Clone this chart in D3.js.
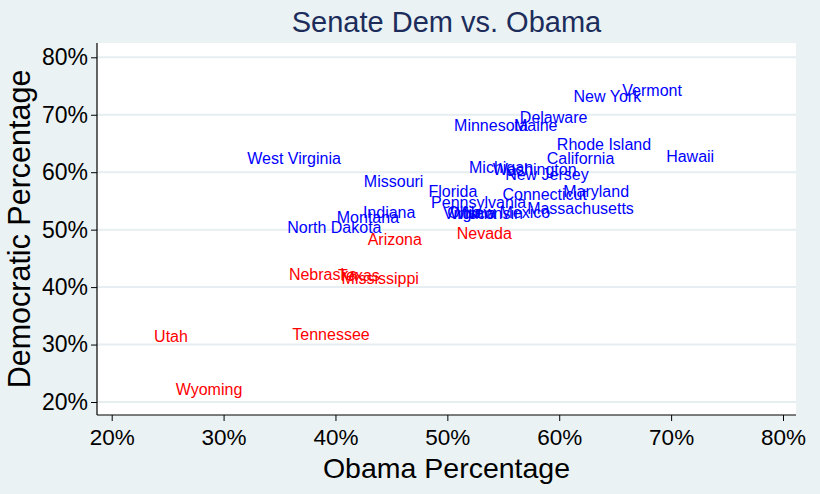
<!DOCTYPE html>
<html>
<head>
<meta charset="utf-8">
<script src="https://cdn.jsdelivr.net/npm/d3@7"></script>
<style>
  body { margin: 0; background: #eaf2f3; }
  svg { display: block; font-family: "Liberation Sans", Arial, sans-serif; }
</style>
</head>
<body>
<div id="chart"></div>
<script>
// state labels, Obama share (x), Democratic senate share (y), won seat?
const states = ["Vermont", "New York", "Delaware", "Maine", "Minnesota", "Rhode Island", "California",
  "Hawaii", "Michigan", "Washington", "New Jersey", "Florida", "Connecticut", "Maryland",
  "Pennsylvania", "Massachusetts", "West Virginia", "Missouri", "Indiana", "Montana",
  "North Dakota", "Wisconsin", "Virginia", "Ohio", "New Mexico",
  "Nevada", "Arizona", "Nebraska", "Texas", "Mississippi", "Utah", "Tennessee", "Wyoming"];
const obamaPct = [68.3, 64.3, 59.5, 57.9, 53.9, 64.0, 61.9,
  71.7, 54.8, 57.8, 58.9, 50.5, 58.7, 63.3,
  52.8, 61.9, 36.3, 45.2, 44.8, 42.9,
  39.9, 53.5, 52.0, 51.5, 55.3,
  53.3, 45.3, 38.9, 42.1, 44.0, 25.3, 39.6, 28.7];
const demPct = [74.2, 73.2, 69.6, 68.2, 68.2, 64.9, 62.5,
  62.7, 60.8, 60.6, 59.7, 56.7, 56.1, 56.7,
  54.8, 53.8, 62.4, 58.5, 53.1, 52.1,
  50.5, 52.9, 52.9, 53.1, 53.0,
  49.4, 48.3, 42.2, 42.0, 41.6, 31.5, 31.8, 22.2];
const demWon = [1, 1, 1, 1, 1, 1, 1,
  1, 1, 1, 1, 1, 1, 1,
  1, 1, 1, 1, 1, 1,
  1, 1, 1, 1, 1,
  0, 0, 0, 0, 0, 0, 0, 0];
const tickValues = [20, 30, 40, 50, 60, 70, 80];

const W = 820, H = 494;
const plot = { left: 97, right: 796, top: 43, bottom: 415 };

const svg = d3.select("#chart").append("svg")
    .attr("width", W)
    .attr("height", H);

svg.append("rect")
    .attr("width", W).attr("height", H)
    .attr("fill", "#eaf2f3");

svg.append("rect")
    .attr("x", plot.left).attr("y", plot.top)
    .attr("width", plot.right - plot.left)
    .attr("height", plot.bottom - plot.top)
    .attr("fill", "#ffffff");

const x = d3.scaleLinear().domain([20, 80]).range([111.7, 783]);
const y = d3.scaleLinear().domain([20, 80]).range([402, 57.3]);

// gridlines
svg.append("g")
  .selectAll("line")
  .data(tickValues)
  .join("line")
    .attr("x1", plot.left).attr("x2", plot.right)
    .attr("y1", d => y(d)).attr("y2", d => y(d))
    .attr("stroke", "#e6eef1")
    .attr("stroke-width", 2);

// axes
const xAxis = d3.axisBottom(x)
    .tickValues(tickValues)
    .tickFormat(d => d + "%")
    .tickSize(6)
    .tickPadding(8);
const gx = svg.append("g")
    .attr("transform", `translate(0,${plot.bottom})`)
    .call(xAxis);
gx.select(".domain").remove();
gx.append("line")
    .attr("x1", plot.left).attr("x2", plot.right)
    .attr("stroke", "#000").attr("stroke-width", 1.2);
gx.selectAll(".tick line").attr("stroke", "#000");
gx.selectAll(".tick text")
    .attr("fill", "#000")
    .style("font-size", "22.5px")
    .style("font-family", "Liberation Sans, Arial, sans-serif");

const yAxis = d3.axisLeft(y)
    .tickValues(tickValues)
    .tickFormat(d => d + "%")
    .tickSize(6)
    .tickPadding(3);
const gy = svg.append("g")
    .attr("transform", `translate(${plot.left},0)`)
    .call(yAxis);
gy.select(".domain").remove();
gy.append("line")
    .attr("y1", plot.top).attr("y2", plot.bottom)
    .attr("stroke", "#000").attr("stroke-width", 1.2);
gy.selectAll(".tick line").attr("stroke", "#000");
gy.selectAll(".tick text")
    .attr("fill", "#000")
    .style("font-size", "23px")
    .style("font-family", "Liberation Sans, Arial, sans-serif");

// state labels centred on their points
const rows = states.map((s, i) => ({ name: s, ox: obamaPct[i], dy: demPct[i], won: demWon[i] }));
svg.append("g")
  .selectAll("text")
  .data(rows)
  .join("text")
    .attr("x", d => x(d.ox))
    .attr("y", d => y(d.dy))
    .attr("dy", "0.36em")
    .attr("text-anchor", "middle")
    .attr("fill", d => d.won ? "#0000ff" : "#ff0000")
    .style("font-size", "16px")
    .text(d => d.name);

// titles
svg.append("text")
    .attr("x", (plot.left + plot.right) / 2)
    .attr("y", 32)
    .attr("text-anchor", "middle")
    .attr("fill", "#1c2d5c")
    .style("font-size", "29px")
    .text("Senate Dem vs. Obama");

svg.append("text")
    .attr("x", (plot.left + plot.right) / 2)
    .attr("y", 478)
    .attr("text-anchor", "middle")
    .attr("fill", "#000")
    .style("font-size", "28.5px")
    .text("Obama Percentage");

svg.append("text")
    .attr("transform", `translate(30,${(plot.top + plot.bottom) / 2}) rotate(-90)`)
    .attr("text-anchor", "middle")
    .attr("fill", "#000")
    .style("font-size", "30.5px")
    .text("Democratic Percentage");
</script>
</body>
</html>
